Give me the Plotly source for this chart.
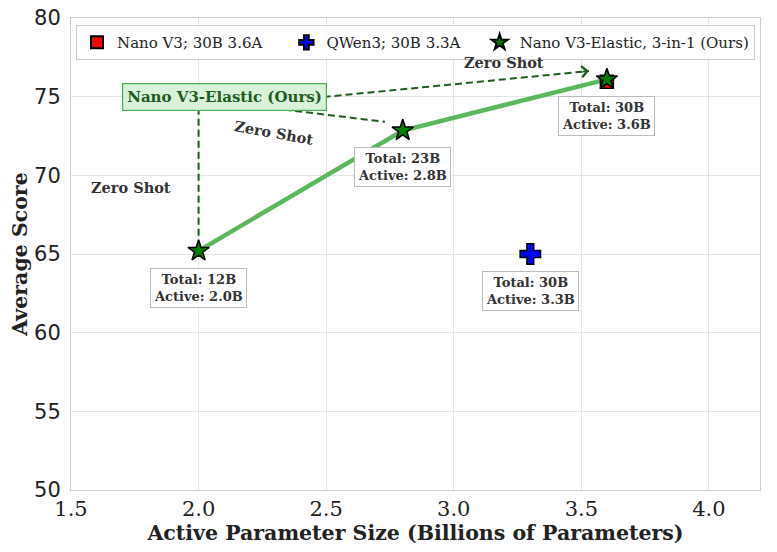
import plotly.graph_objects as go

# Data
nano_x = [3.6]
nano_y = [75.95]
qwen_x = [3.3]
qwen_y = [65.0]
elastic_x = [2.0, 2.8, 3.6]
elastic_y = [65.2, 72.85, 76.1]
elastic_labels = ["Total: 12B<br>Active: 2.0B", "Total: 23B<br>Active: 2.8B", "Total: 30B<br>Active: 3.6B"]
qwen_labels = ["Total: 30B<br>Active: 3.3B"]
series_names = ["Nano V3; 30B 3.6A", "QWen3; 30B 3.3A", "Nano V3-Elastic, 3-in-1 (Ours)"]

SERIF = "DejaVu Serif"
DARK_GREEN = "#1e5c1e"
NB = "\u00a0"
pads = [4, 3, 0]
legend_names = [n + NB * p for n, p in zip(series_names, pads)]

fig = go.Figure()

fig.add_trace(go.Scatter(x=elastic_x, y=elastic_y, mode="lines",
                         line=dict(color="#5cb85c", width=4.5), showlegend=False, hoverinfo="skip"))
fig.add_trace(go.Scatter(x=nano_x, y=nano_y, mode="markers", name=legend_names[0],
                         marker=dict(symbol="square", size=13, color="red", line=dict(color="black", width=1.5))))
fig.add_trace(go.Scatter(x=qwen_x, y=qwen_y, mode="markers", name=legend_names[1],
                         marker=dict(symbol="cross", size=17, color="blue", line=dict(color="black", width=1.5))))
fig.add_trace(go.Scatter(x=elastic_x, y=elastic_y, mode="markers", name=legend_names[2],
                         marker=dict(symbol="star", size=16, color="green", line=dict(color="black", width=1.5))))

# info boxes
label_font = dict(family=SERIF, size=13, color="#333333")
for xv, yv, t in zip(elastic_x, elastic_y, elastic_labels):
    fig.add_annotation(x=xv, y=yv, text="<b>" + t + "</b>", showarrow=False, yshift=-37,
                       font=label_font, bgcolor="white", bordercolor="#bbbbbb", borderwidth=1, borderpad=3)
for xv, yv, t in zip(qwen_x, qwen_y, qwen_labels):
    fig.add_annotation(x=xv, y=yv, text="<b>" + t + "</b>", showarrow=False, yshift=-37,
                       font=label_font, bgcolor="white", bordercolor="#bbbbbb", borderwidth=1, borderpad=3)

# dashed arrows from the label box to the elastic points
arrows = [((2.0, 74.3), (2.0, 65.9)),
          ((2.25, 74.35), (2.73, 73.4)),
          ((2.49, 74.98), (3.53, 76.63))]
for (x0, y0), (x1, y1) in arrows:
    fig.add_shape(type="line", x0=x0, y0=y0, x1=x1, y1=y1, xref="x", yref="y",
                  line=dict(color=DARK_GREEN, width=2, dash="7px,4px"))
    fig.add_annotation(x=x1, y=y1, ax=x0 + (x1 - x0) * 0.97, ay=y0 + (y1 - y0) * 0.97,
                       axref="x", ayref="y", xref="x", yref="y", text="", showarrow=True,
                       arrowhead=4, arrowsize=1.2, arrowwidth=1.8, arrowcolor=DARK_GREEN)

# main label box
fig.add_annotation(x=2.1, y=75.0, text="<b>Nano V3-Elastic (Ours)</b>", showarrow=False,
                   font=dict(family=SERIF, size=15, color=DARK_GREEN),
                   bgcolor="#d9f0d9", bordercolor="#4caf50", borderwidth=1.2, borderpad=4)

zs_font = dict(family=SERIF, size=14.5, color="#333333")
fig.add_annotation(x=1.735, y=69.2, text="<b>Zero Shot</b>", showarrow=False, font=zs_font)
fig.add_annotation(x=2.295, y=72.7, text="<b>Zero Shot</b>", showarrow=False, font=zs_font, textangle=10)
fig.add_annotation(x=3.197, y=77.15, text="<b>Zero Shot</b>", showarrow=False, font=zs_font)

fig.update_layout(
    width=777, height=552,
    margin=dict(l=71, r=17, t=18, b=62, autoexpand=False),
    plot_bgcolor="white", paper_bgcolor="white",
    font=dict(family=SERIF, color="#222222"),
    legend=dict(orientation="h", x=0.5, xanchor="center", y=0.985, yanchor="top",
                bgcolor="rgba(255,255,255,0.9)", bordercolor="#cccccc", borderwidth=1,
                font=dict(family=SERIF, size=15, color="#222222"),
                itemsizing="constant"),
    xaxis=dict(range=[1.5, 4.2], dtick=0.5, tickformat=".1f", showgrid=True, gridcolor="#e5e5e5",
               zeroline=False, showline=True, linecolor="#cccccc", mirror=True, automargin=False,
               ticklabeloverflow="allow",
               tickfont=dict(family=SERIF, size=21, color="#222222"),
               ticks="", title=dict(text="<b>Active Parameter Size (Billions of Parameters)</b>",
                                    font=dict(family=SERIF, size=20.5, color="#222222"), standoff=5)),
    yaxis=dict(range=[50, 80], dtick=5, showgrid=True, gridcolor="#e5e5e5", zeroline=False,
               showline=True, linecolor="#cccccc", mirror=True, automargin=False,
               ticklabeloverflow="allow", ticklabelstandoff=5,
               tickfont=dict(family="DejaVu Sans", size=21, color="#222222"), ticks="",
               title=dict(text="<b>Average Score</b>", font=dict(family=SERIF, size=20.5, color="#222222"),
                          standoff=0)),
)

fig.write_html("out.html", config={"displayModeBar": False},
               post_script="document.body.style.margin='0';")
